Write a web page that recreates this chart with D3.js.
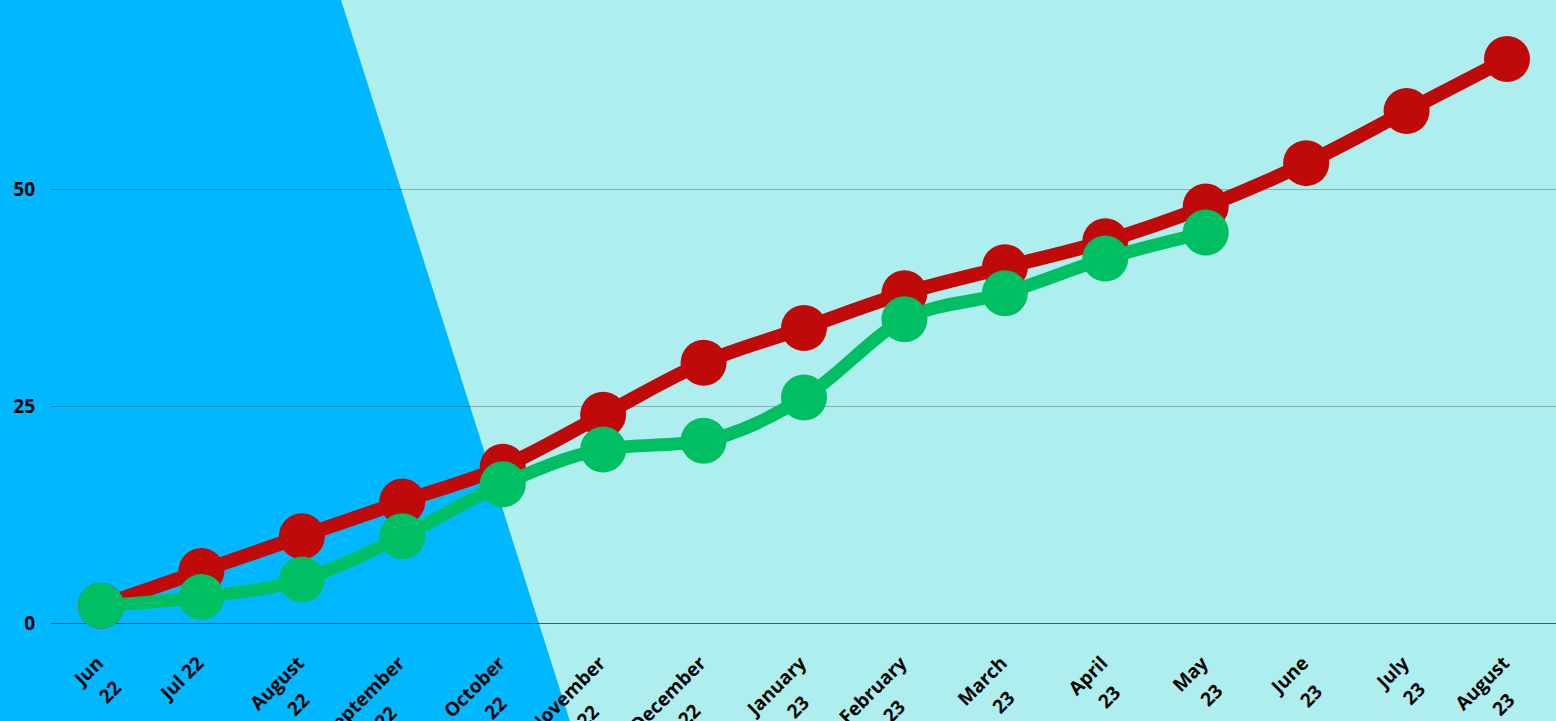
<!DOCTYPE html>
<html>
<head>
<meta charset="utf-8">
<script src="https://cdn.jsdelivr.net/npm/d3@7"></script>
<style>
  html, body { margin: 0; padding: 0; overflow: hidden; }
  svg { display: block; font-family: "Open Sans", sans-serif; font-weight: 700; }
</style>
</head>
<body>
<svg id="chart"></svg>
<script>
// month labels (line breaks as in the source chart)
var months = ["Jun\n22", "Jul 22", "August\n22", "September\n22", "October\n22",
              "November\n22", "December\n22", "January\n23", "February\n23", "March\n23",
              "April\n23", "May\n23", "June\n23", "July\n23", "August\n23"];

var redValues   = [2, 6, 10, 14, 18, 24, 30, 34, 38, 41, 44, 48, 53, 59, 65];
var greenValues = [2, 3, 5, 10, 16, 20, 21, 26, 35, 38, 42, 45];

var yTicks = [0, 25, 50];

var width = 1556, height = 721;
var plotLeft = 51, plotBottom = 623;

var svg = d3.select("#chart").attr("width", width).attr("height", height);

// background: pale panel with blue wedge on the left
svg.append("rect").attr("width", width).attr("height", height).attr("fill", "#afeeee");
svg.append("polygon")
    .attr("points", [[0, 0], [341, 0], [341 + 0.3175 * height, height], [0, height]].join(" "))
    .attr("fill", "#00b8ff");

var x = d3.scalePoint()
    .domain(d3.range(months.length))
    .range([101, 1507]);

var y = d3.scaleLinear()
    .domain([0, 71.8])
    .range([plotBottom, 0]);

// gridlines
svg.append("g").selectAll("line")
    .data(yTicks)
  .enter().append("line")
    .attr("x1", plotLeft)
    .attr("x2", width)
    .attr("y1", function(d) { return Math.round(y(d)) + 0.5; })
    .attr("y2", function(d) { return Math.round(y(d)) + 0.5; })
    .attr("stroke", "#000")
    .attr("stroke-opacity", function(d) { return d == 0 ? 0.6 : 0.25; })
    .attr("stroke-width", 1);

// y labels
svg.append("g").selectAll("text")
    .data(yTicks)
  .enter().append("text")
    .attr("x", 35)
    .attr("y", function(d) { return y(d); })
    .attr("dy", "0.36em")
    .attr("text-anchor", "end")
    .attr("font-size", 19)
    .attr("fill", "#000")
    .text(function(d) { return d; });

// x labels, rotated -45 as a centred block
var xl = svg.append("g").selectAll("g")
    .data(months)
  .enter().append("g")
    .attr("transform", function(d, i) { return "translate(" + (x(i) - 5) + ",656) rotate(-45)"; });

xl.each(function(d) {
  var g = d3.select(this);
  var lines = d.split("\n");
  var t = g.append("text").attr("font-size", 19).attr("fill", "#000").attr("text-anchor", "middle");
  lines.forEach(function(l, k) {
    t.append("tspan").attr("x", 0).attr("y", 12 + k * 30).text(l);
  });
  var maxW = 0;
  t.selectAll("tspan").each(function() { maxW = Math.max(maxW, this.getComputedTextLength()); });
  t.attr("transform", "translate(" + (-maxW / 2) + ",0)");
});

var line = d3.line()
    .x(function(d, i) { return x(i); })
    .y(function(d) { return y(d); })
    .curve(d3.curveMonotoneX);

function series(values, colour, lw) {
  var g = svg.append("g");
  g.append("path")
      .datum(values)
      .attr("d", line)
      .attr("fill", "none")
      .attr("stroke", colour)
      .attr("stroke-width", lw)
      .attr("stroke-linejoin", "round");
  g.selectAll("circle")
      .data(values)
    .enter().append("circle")
      .attr("cx", function(d, i) { return x(i); })
      .attr("cy", function(d) { return y(d); })
      .attr("r", 23)
      .attr("fill", colour);
}

series(redValues, "#c00a0a", 14);
series(greenValues, "#00bf63", 13);
</script>
</body>
</html>
